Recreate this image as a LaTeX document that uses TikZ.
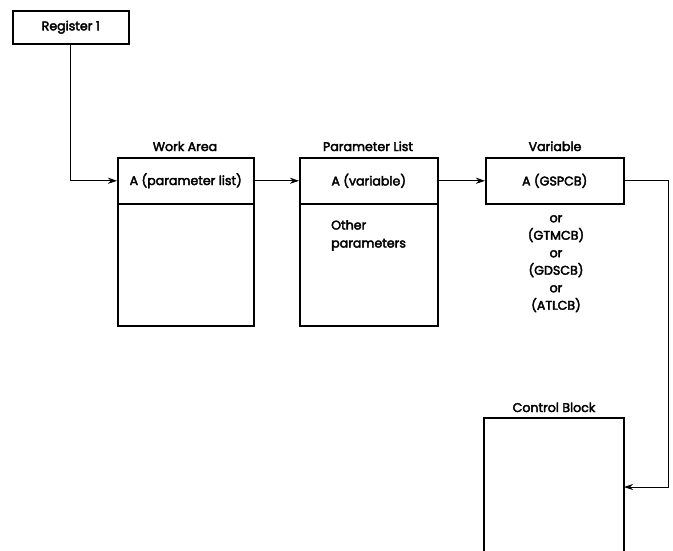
\documentclass[tikz,border=0pt]{standalone}
\usepackage{fontspec}
\setmainfont{Poppins}[FakeBold=3]
\usetikzlibrary{arrows.meta}
\begin{document}
\begin{tikzpicture}[x=1pt,y=-1pt,
  every node/.style={font=\fontsize{12.6}{15}\selectfont, inner sep=0pt},
  boxpart/.style={draw, line width=1.5pt, anchor=north west},
  conn/.style={line width=0.8pt, -{Stealth[length=9pt,width=6pt]}},
  lbl/.style={anchor=base}]
\useasboundingbox (0,0) rectangle (673,550);
% Register 1
\node[boxpart, minimum width=116pt, minimum height=33pt] (reg) at (12,10) {Register 1};
% Work Area
\node[boxpart, minimum width=136pt, minimum height=46pt] (wa) at (117,157) {A (parameter list)};
\node[boxpart, minimum width=136pt, minimum height=122pt] (wab) at (117,203) {};
\node[lbl] (watitle) at (185,151) {Work Area};
% Parameter List
\node[boxpart, minimum width=138pt, minimum height=46pt] (pl) at (299,157) {A (variable)};
\node[boxpart, minimum width=138pt, minimum height=122pt] (plb) at (299,203) {};
\node[lbl] (pltitle) at (368,151) {Parameter List};
\node[anchor=north west, align=left, font=\fontsize{12.6}{18}\selectfont] (other) at (331,220) {Other\\parameters};
% Variable
\node[boxpart, minimum width=138pt, minimum height=46pt] (var) at (485,157) {A (GSPCB)};
\node[lbl] (vartitle) at (555,151) {Variable};
\node[anchor=north, align=center, font=\fontsize{12.6}{17.5}\selectfont] (alts) at (556,215) {or\\(GTMCB)\\or\\(GDSCB)\\or\\(ATLCB)};
% Control Block
\coordinate (cbtl) at (484,418);
\coordinate (cbtr) at (624,418);
\draw[line width=1.5pt] (484,551) -- (cbtl) -- (cbtr) -- (624,551);
\node[lbl] (cbtitle) at (554,412) {Control Block};
\coordinate (cbin) at (624,487);
% connectors
\draw[conn] (reg.south) |- (wa.west);
\draw[conn] (wa.east) -- (pl.west);
\draw[conn] (pl.east) -- (var.west);
\draw[conn] (var.east) -- ++(44,0) |- (cbin);
\end{tikzpicture}
\end{document}
